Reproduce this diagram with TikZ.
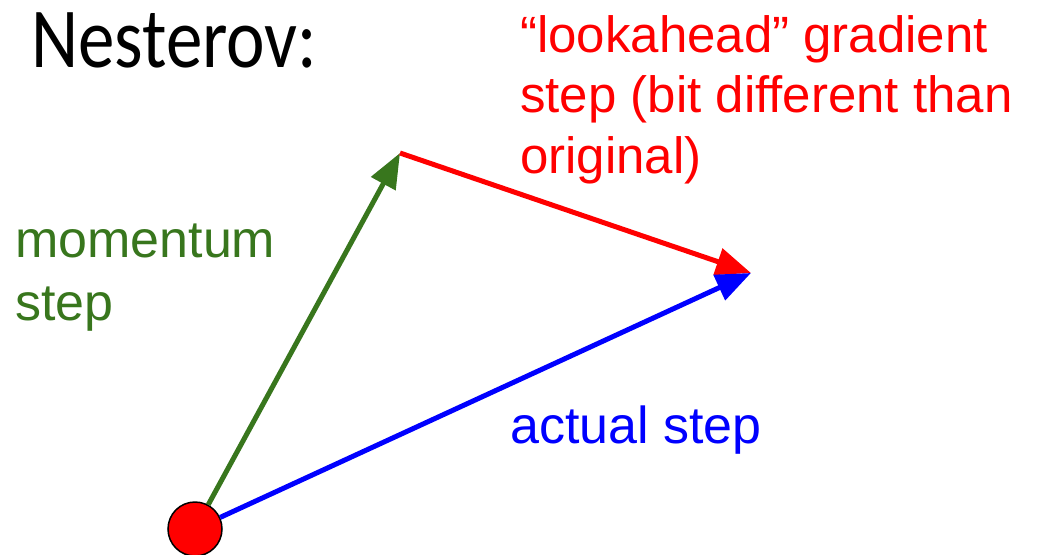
\documentclass[tikz,border=0pt]{standalone}
\usepackage{fontspec}
\setmainfont{Liberation Sans}
\newfontfamily\titlefont{Carlito}
\usetikzlibrary{arrows.meta}
\definecolor{momgreen}{RGB}{56,118,29}
\definecolor{gradred}{RGB}{255,0,0}
\definecolor{actblue}{RGB}{0,0,255}
\begin{document}
\begin{tikzpicture}[x=1pt,y=-1pt,
  vec/.style={line width=5pt,-{Triangle[length=35pt,width=27pt]}},
  lbl/.style={anchor=base west,inner sep=0pt,align=left}]
\useasboundingbox (0,0) rectangle (1041,554);
\node[anchor=base west,inner sep=0pt,font=\titlefont\fontsize{73}{80}\selectfont] (title) at (31,67) {\scalebox{1}[1.17]{Nesterov:}};
\node[circle,fill=gradred,draw=black,line width=1.5pt,minimum size=54pt,inner sep=0pt] (o) at (195,529) {};
\coordinate (m) at (400,153);
\coordinate (g) at (751,273);
\draw[vec,draw=momgreen,fill=momgreen] (o) -- (m);
\draw[vec,draw=gradred,fill=gradred] (m) -- (g);
\draw[vec,draw=actblue,fill=actblue] (o) -- (g);
\node[lbl,text=momgreen,font=\fontsize{52}{63}\selectfont] (mlab) at (15,320) {momentum\\step};
\node[lbl,text=gradred,font=\fontsize{51}{60.5}\selectfont] (glab) at (520,173) {“lookahead” gradient\\step (bit different than\\original)};
\node[lbl,text=actblue,font=\fontsize{52}{61}\selectfont] (alab) at (510,443) {actual step};
\end{tikzpicture}
\end{document}
